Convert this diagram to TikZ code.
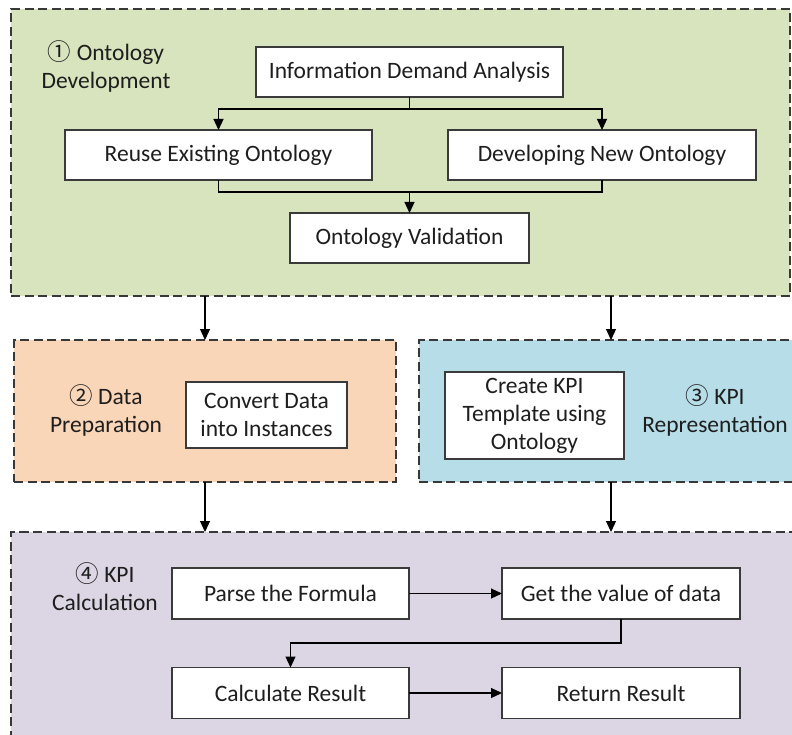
\documentclass[tikz,border=0pt]{standalone}
\usepackage{fontspec}
\setmainfont{Carlito}
\newfontfamily\circfont{Noto Sans CJK SC}
\usetikzlibrary{arrows.meta}

\definecolor{inktext}{HTML}{1E1E1E}
\definecolor{boxline}{HTML}{3A3A3A}
\definecolor{regline}{HTML}{383838}
\definecolor{ontgreen}{HTML}{D7E4BD}
\definecolor{dataorange}{HTML}{FAD6B9}
\definecolor{kpiblue}{HTML}{B7DDE8}
\definecolor{calcpurple}{HTML}{DCD6E4}

\tikzset{
  region/.style={draw=regline, line width=2pt, dash pattern=on 9pt off 4.5pt,
    inner sep=0pt, outer sep=0pt},
  stepbox/.style={draw=boxline, line width=1.4pt, fill=white, inner sep=0pt,
    outer sep=0pt, text=inktext, align=center,
    font=\fontsize{23.5}{28}\selectfont},
  tag/.style={text=inktext, align=center, inner sep=0pt,
    font=\fontsize{23.5}{28}\selectfont},
  arr/.style={draw=black, line width=1.2pt, -{Triangle[length=11pt,width=10pt]}},
  link/.style={draw=black, line width=1.2pt},
}

\begin{document}
\begin{tikzpicture}[x=1pt,y=-1pt]
\useasboundingbox (0,0) rectangle (792,735);
\clip (0,0) rectangle (792,735);

% stage regions
\node[region, fill=ontgreen, minimum width=779pt, minimum height=287pt] (green) at (400.5,152.5) {};
\node[region, fill=dataorange, minimum width=382pt, minimum height=142pt] (orange) at (205,411) {};
\node[region, fill=kpiblue, minimum width=384pt, minimum height=142pt] (blue) at (611,411) {};
\node[region, fill=calcpurple, minimum width=800pt, minimum height=213pt] (purple) at (411,638.5) {};

% stage titles
\node[tag] (t1) at (106,66) {{\circfont ①} Ontology\\Development};
\node[tag] (t2) at (106,410) {{\circfont ②} Data\\Preparation};
\node[tag] (t3) at (715,410) {{\circfont ③} KPI\\Representation};
\node[tag] (t4) at (105,587) {{\circfont ④} KPI\\Calculation};

% ontology development steps
\node[stepbox, minimum width=307pt, minimum height=50pt] (ida) at (409.5,72) {Information Demand Analysis};
\node[stepbox, minimum width=307pt, minimum height=50pt] (reuse) at (218.5,155) {Reuse Existing Ontology};
\node[stepbox, minimum width=308pt, minimum height=50pt] (devnew) at (602,155) {Developing New Ontology};
\node[stepbox, minimum width=239pt, minimum height=50pt] (valid) at (409.5,238) {Ontology Validation};

% data preparation and KPI representation
\node[stepbox, minimum width=161pt, minimum height=66pt] (conv) at (266.5,415) {Convert Data\\into Instances};
\node[stepbox, minimum width=179pt, minimum height=87pt] (kpit) at (534.5,415.5) {Create KPI\\Template using\\Ontology};

% KPI calculation steps
\node[stepbox, minimum width=237pt, minimum height=51pt] (parse) at (290.5,593.5) {Parse the Formula};
\node[stepbox, minimum width=238pt, minimum height=51pt] (getv) at (621,593.5) {Get the value of data};
\node[stepbox, minimum width=237pt, minimum height=51pt] (calc) at (290.5,693) {Calculate Result};
\node[stepbox, minimum width=238pt, minimum height=51pt] (ret) at (621,693) {Return Result};

% branching inside ontology development
\coordinate (split) at (409.5,109);
\coordinate (merge) at (409.5,192);
\draw[link] (ida.south) -- (split);
\draw[arr] (split) -| (reuse.north);
\draw[arr] (split) -| (devnew.north);
\draw[link] (reuse.south) |- (merge);
\draw[link] (devnew.south) |- (merge);
\draw[arr] (merge) -- (valid.north);

% flow between stages
\draw[arr] (orange.north |- green.south) -- (orange.north);
\draw[arr] (blue.north |- green.south) -- (blue.north);
\draw[arr] (orange.south) -- (orange.south |- purple.north);
\draw[arr] (blue.south) -- (blue.south |- purple.north);

% flow inside KPI calculation
\coordinate (turn) at (290.5,643);
\draw[arr] (parse.east) -- (getv.west);
\draw[arr] (getv.south) |- (turn) -- (calc.north);
\draw[arr] (calc.east) -- (ret.west);
\end{tikzpicture}
\end{document}
